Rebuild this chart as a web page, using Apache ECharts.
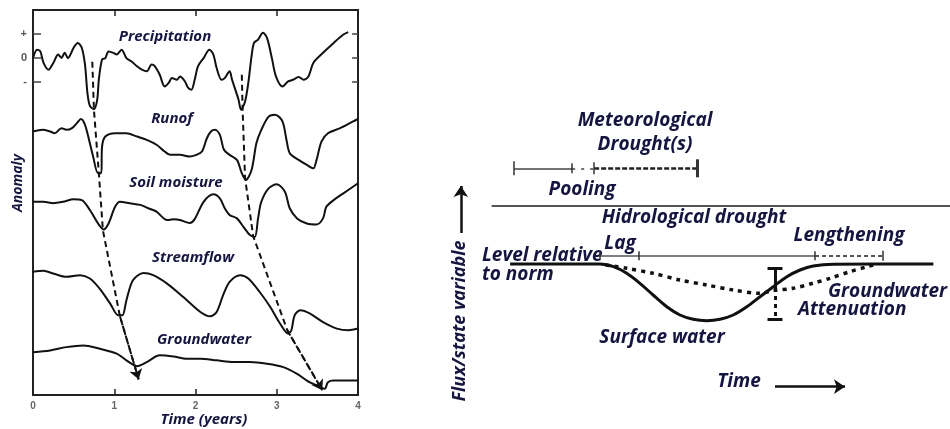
<!DOCTYPE html>
<html>
<head>
<meta charset="UTF-8">
<title>Drought propagation</title>
<script src="https://cdn.jsdelivr.net/npm/echarts@6/dist/echarts.min.js"></script>
<style>
  html, body { margin: 0; padding: 0; background: #fff; }
  #chart { width: 950px; height: 429px; }
</style>
</head>
<body>
<div id="chart"></div>
<script>
// left panel: anomaly curves, [time in years, anomaly units], each curve offset downwards
const precipitation = [[0,0],[0.05,0.35],[0.09,0.28],[0.13,-0.2],[0.19,-0.48],[0.25,-0.2],[0.31,0.15],[0.35,0.01],[0.39,0.22],[0.43,0],[0.5,0.43],[0.55,0.63],[0.6,0.43],[0.64,-0.27],[0.67,-1.45],[0.7,-1.98],[0.75,-2.12],[0.79,-1.73],[0.81,-0.9],[0.85,-0.06],[0.89,0],[0.93,0.28],[0.99,0.22],[1.03,0.15],[1.09,0.35],[1.15,0],[1.21,-0.13],[1.28,-0.34],[1.34,-0.48],[1.4,-0.55],[1.46,-0.27],[1.5,-0.34],[1.56,-0.69],[1.62,-1.18],[1.67,-1.03],[1.71,-0.83],[1.77,-0.9],[1.81,-0.76],[1.87,-0.97],[1.91,-1.24],[1.95,-1.31],[1.99,-0.9],[2.03,-0.34],[2.1,0],[2.17,0.35],[2.22,0.15],[2.26,-0.41],[2.32,-0.9],[2.36,-0.83],[2.42,-0.55],[2.45,-0.9],[2.49,-1.31],[2.53,-1.73],[2.56,-2.15],[2.61,-1.8],[2.65,-1.03],[2.69,0.08],[2.72,0.63],[2.77,0.77],[2.83,1.05],[2.88,0.84],[2.94,0],[2.99,-0.76],[3.07,-1.18],[3.14,-0.97],[3.2,-0.9],[3.27,-0.78],[3.33,-0.9],[3.39,-0.76],[3.45,-0.2],[3.57,0.22],[3.7,0.63],[3.82,0.98],[3.88,1.08]];
const runoff = [[0,-3.05],[0.12,-2.98],[0.21,-3.05],[0.27,-3.12],[0.35,-2.91],[0.41,-2.98],[0.48,-2.91],[0.54,-2.7],[0.59,-2.53],[0.64,-2.77],[0.69,-3.4],[0.74,-4.09],[0.8,-4.78],[0.84,-4.78],[0.85,-3.68],[0.89,-3.26],[1.01,-3.12],[1.15,-3.12],[1.28,-3.26],[1.4,-3.4],[1.52,-3.6],[1.62,-3.88],[1.69,-4.02],[1.81,-4.02],[1.93,-4.09],[2.01,-4.02],[2.08,-3.88],[2.14,-3.33],[2.19,-3.05],[2.24,-2.98],[2.3,-3.19],[2.35,-3.81],[2.42,-4.02],[2.51,-4.23],[2.57,-4.78],[2.62,-5.06],[2.69,-4.65],[2.75,-3.53],[2.81,-2.98],[2.9,-2.43],[2.98,-2.35],[3.07,-2.63],[3.12,-3.4],[3.16,-3.95],[3.27,-4.23],[3.37,-4.44],[3.45,-4.58],[3.49,-4.23],[3.55,-3.47],[3.63,-3.12],[3.78,-2.91],[3.94,-2.63],[4,-2.53]];
const soilMoisture = [[0,-5.97],[0.13,-5.97],[0.25,-6.03],[0.37,-5.97],[0.5,-5.87],[0.6,-5.9],[0.7,-6.31],[0.8,-6.87],[0.87,-7.12],[0.93,-6.87],[1.01,-6.18],[1.07,-5.97],[1.19,-6.03],[1.32,-6.1],[1.42,-6.24],[1.52,-6.38],[1.65,-6.73],[1.73,-6.7],[1.81,-6.73],[1.93,-6.85],[1.99,-6.69],[2.1,-5.97],[2.22,-5.66],[2.3,-5.83],[2.36,-6.24],[2.42,-6.52],[2.51,-6.66],[2.59,-7.01],[2.67,-7.35],[2.73,-7.43],[2.77,-6.66],[2.81,-5.97],[2.9,-5.41],[3,-5.24],[3.1,-5.55],[3.16,-6.24],[3.25,-6.66],[3.37,-6.87],[3.49,-6.91],[3.57,-6.66],[3.61,-6.18],[3.7,-5.9],[3.82,-5.62],[4,-5.2]];
const streamflow = [[0,-8.88],[0.13,-8.84],[0.25,-8.95],[0.41,-9.09],[0.58,-9.02],[0.7,-9.16],[0.82,-9.58],[0.95,-10.2],[1.05,-10.69],[1.1,-10.69],[1.15,-10.06],[1.23,-9.23],[1.36,-8.93],[1.48,-9.02],[1.65,-9.37],[1.85,-9.93],[2.06,-10.55],[2.18,-10.73],[2.26,-10.55],[2.34,-9.85],[2.42,-9.3],[2.55,-9.02],[2.65,-9.16],[2.79,-9.72],[2.92,-10.34],[3.04,-11.03],[3.14,-11.45],[3.18,-11.31],[3.22,-10.69],[3.29,-10.48],[3.41,-10.62],[3.57,-10.97],[3.74,-11.24],[3.88,-11.31],[4,-11.24]];
const groundwater = [[0,-12.22],[0.21,-12.15],[0.41,-12.01],[0.62,-11.94],[0.82,-12.08],[1.03,-12.28],[1.15,-12.56],[1.28,-12.8],[1.4,-12.63],[1.56,-12.35],[1.73,-12.4],[1.89,-12.49],[2.06,-12.49],[2.26,-12.56],[2.47,-12.63],[2.67,-12.63],[2.88,-12.7],[3.08,-12.84],[3.25,-13.12],[3.37,-13.4],[3.49,-13.6],[3.59,-13.74],[3.63,-13.47],[3.7,-13.4],[4,-13.4]];
// dashed propagation paths (dip to dip)
const propagation1 = [[0.73,-0.15],[0.75,-2.15],[0.81,-4.77],[0.86,-7.15],[1.07,-10.73],[1.3,-13.35]];
const propagation2 = [[2.57,-0.69],[2.58,-2.15],[2.61,-4.98],[2.71,-7.4],[3.13,-11.31],[3.56,-13.8]];
const anomalyTicks = [-1, 0, 1];
const anomalyNames = { '1': '+', '0': '0', '-1': '-' };

// right panel: schematic, [time, level relative to norm]
const surfaceWater = [[0.23,0],[2.27,0],[2.58,-0.27],[2.88,-0.93],[3.18,-1.93],[3.48,-3.1],[3.79,-4.27],[4.09,-5.1],[4.39,-5.53],[4.7,-5.67],[5,-5.53],[5.3,-5.1],[5.61,-4.27],[5.91,-3.27],[6.21,-2.27],[6.52,-1.27],[6.82,-0.6],[7.12,-0.2],[7.58,-0.03],[9.85,0]];
const groundwaterSchem = [[2.4,-0.1],[2.88,-0.43],[3.48,-0.93],[4.09,-1.6],[4.7,-2.1],[5.3,-2.6],[5.91,-2.93],[6.2,-2.67],[6.66,-2.43],[7.11,-1.93],[7.5,-1.43],[7.95,-0.77],[8.34,-0.27],[8.57,0]];
const meteoBar = { level: 9.57, wet: [0.32, 1.64], pool: [1.64, 2.14], drought: [2.14, 4.48] };
const hydroBar = { level: 0.83, lag: [2.27, 3.16], drought: [2.27, 7.16], lengthening: [7.16, 8.7] };
const separatorLevel = 5.83;
const attenuation = { time: 6.25, top: -0.43, cross: -2.4, bottom: -5.5 };

const chart = echarts.init(document.getElementById('chart'));
const FONT = '"Open Sans", "Noto Sans", sans-serif';
const TXT = '#15153f';
const ink = '#111';

function seg(a, b, style) {
  return { coords: [a, b], lineStyle: Object.assign({ opacity: 1 }, style) };
}
function tick(t, L, h, w) {
  return seg([t, L - h], [t, L + h], { color: '#333', width: w || 1.5, type: 'solid' });
}

const barSegs = [
  seg([meteoBar.wet[0], meteoBar.level], [meteoBar.wet[1], meteoBar.level], { color: '#444', width: 1.5, type: 'solid' }),
  seg([meteoBar.pool[0], meteoBar.level], [meteoBar.pool[1], meteoBar.level], { color: '#444', width: 1.5, type: [3, 6] }),
  seg([meteoBar.drought[0], meteoBar.level], [meteoBar.drought[1], meteoBar.level], { color: '#222', width: 2.5, type: [5, 2] }),
  tick(meteoBar.wet[0], meteoBar.level, 0.7),
  tick(meteoBar.wet[1], meteoBar.level, 0.5),
  tick(meteoBar.drought[0], meteoBar.level, 0.6),
  tick(meteoBar.drought[1], meteoBar.level, 0.9, 3),
  seg([hydroBar.drought[0], hydroBar.level], [hydroBar.drought[1], hydroBar.level], { color: '#555', width: 1.5, type: 'solid' }),
  seg([hydroBar.lengthening[0], hydroBar.level], [hydroBar.lengthening[1], hydroBar.level], { color: '#555', width: 2, type: [4, 3] }),
  tick(hydroBar.lag[0], hydroBar.level, 0.35),
  tick(hydroBar.lag[1], hydroBar.level, 0.45),
  tick(hydroBar.lengthening[0], hydroBar.level, 0.45),
  tick(hydroBar.lengthening[1], hydroBar.level, 0.5),
  seg([-0.19, separatorLevel], [10.3, separatorLevel], { color: '#555', width: 2, type: 'solid' }),
  seg([attenuation.time, attenuation.top], [attenuation.time, attenuation.cross], { color: ink, width: 3, type: 'solid' }),
  seg([attenuation.time, attenuation.cross], [attenuation.time, attenuation.bottom], { color: ink, width: 3, type: [4, 4] }),
  seg([attenuation.time - 0.17, attenuation.top], [attenuation.time + 0.17, attenuation.top], { color: ink, width: 3, type: 'solid' }),
  seg([attenuation.time - 0.17, attenuation.bottom], [attenuation.time + 0.17, attenuation.bottom], { color: ink, width: 3, type: 'solid' })
];

function curve(data) {
  return {
    type: 'line', data: data, xAxisIndex: 0, yAxisIndex: 0,
    showSymbol: false, smooth: 0.3, silent: true,
    lineStyle: { color: ink, width: 2 }
  };
}
function propagation(path) {
  return [{
    type: 'line', data: path, xAxisIndex: 0, yAxisIndex: 0,
    showSymbol: false, silent: true,
    lineStyle: { color: ink, width: 2, type: [6, 4] }
  }, {
    type: 'lines', coordinateSystem: 'cartesian2d', xAxisIndex: 0, yAxisIndex: 0,
    symbol: ['none', 'arrow'], symbolSize: 10, silent: true,
    lineStyle: { color: ink, width: 2, type: [6, 4], opacity: 1 },
    data: [{ coords: path.slice(-2) }]
  }];
}

function text(str, x, y, size, align, rot) {
  return {
    type: 'text', x: x, y: y, rotation: rot || 0, silent: true,
    style: {
      text: str, fill: TXT, font: 'italic bold ' + size + 'px ' + FONT,
      align: align || 'center', verticalAlign: 'middle'
    }
  };
}

const frameLine = { show: true, onZero: false, lineStyle: { color: '#222', width: 2 } };

chart.setOption({
  animation: false,
  grid: [
    { left: 33, right: 592, top: 10, bottom: 34 },
    { left: 456, right: 10, top: 154, bottom: 35 }
  ],
  xAxis: [
    {
      type: 'value', gridIndex: 0, min: 0, max: 4, interval: 1,
      axisLine: frameLine,
      axisTick: { show: true, inside: true, length: 6, lineStyle: { color: '#222', width: 1.5 } },
      axisLabel: { color: '#666', fontWeight: 'bold', fontSize: 10, margin: 6 },
      splitLine: { show: false }
    },
    {
      type: 'value', gridIndex: 0, min: 0, max: 4, interval: 1, position: 'top',
      axisLine: frameLine,
      axisTick: { show: true, inside: true, length: 6, lineStyle: { color: '#222', width: 1.5 } },
      axisLabel: { show: false },
      splitLine: { show: false }
    },
    { type: 'value', gridIndex: 1, min: -1, max: 10, show: false }
  ],
  yAxis: [
    {
      type: 'value', gridIndex: 0, min: -14, max: 2, interval: 1,
      axisLine: frameLine,
      axisTick: { show: true, inside: true, length: 8, customValues: anomalyTicks, lineStyle: { color: '#444', width: 1.5 } },
      axisLabel: {
        customValues: anomalyTicks, color: '#555', fontWeight: 'bold', fontSize: 11, margin: 6,
        formatter: function (v) { return anomalyNames[String(v)] || ''; }
      },
      splitLine: { show: false }
    },
    {
      type: 'value', gridIndex: 0, min: -14, max: 2, interval: 1, position: 'right',
      axisLine: frameLine,
      axisTick: { show: true, inside: true, length: 6, customValues: anomalyTicks, lineStyle: { color: '#444', width: 1.5 } },
      axisLabel: { show: false },
      splitLine: { show: false }
    },
    { type: 'value', gridIndex: 1, min: -13, max: 11, show: false }
  ],
  series: [
    curve(precipitation), curve(runoff), curve(soilMoisture), curve(streamflow), curve(groundwater)
  ].concat(propagation(propagation1), propagation(propagation2), [
    {
      type: 'line', data: surfaceWater, xAxisIndex: 2, yAxisIndex: 2,
      showSymbol: false, smooth: 0.3, silent: true,
      lineStyle: { color: ink, width: 3 }
    },
    {
      type: 'line', data: groundwaterSchem, xAxisIndex: 2, yAxisIndex: 2,
      showSymbol: false, smooth: 0.3, silent: true,
      lineStyle: { color: ink, width: 3.5, type: [4, 5] }
    },
    {
      type: 'lines', coordinateSystem: 'cartesian2d', xAxisIndex: 2, yAxisIndex: 2,
      silent: true, clip: false, symbol: 'none', lineStyle: { opacity: 1 }, data: barSegs
    },
    {
      type: 'lines', coordinateSystem: 'cartesian2d', xAxisIndex: 2, yAxisIndex: 2,
      silent: true, clip: false, symbol: ['none', 'arrow'], symbolSize: [9, 11],
      lineStyle: { color: ink, width: 2.5, opacity: 1 },
      data: [
        { coords: [[6.25, -12.27], [7.84, -12.27]] },
        { coords: [[-0.89, 3.1], [-0.89, 7.8]] }
      ]
    }
  ]),
  graphic: [
    text('Precipitation', 165, 37, 15),
    text('Runof', 172, 119, 15),
    text('Soil moisture', 176, 183, 15),
    text('Streamflow', 193, 258, 15),
    text('Groundwater', 204, 340, 15),
    text('Anomaly', 18, 183, 14, 'center', Math.PI / 2),
    text('Time (years)', 204, 420, 15),
    text('Meteorological', 645, 121, 19),
    text('Drought(s)', 645, 145, 19),
    text('Pooling', 582, 190, 19),
    text('Hidrological drought', 694, 218, 19),
    text('Lengthening', 849, 236, 19),
    text('Lag', 620, 244, 19),
    text('Level relative', 482, 256, 19, 'left'),
    text('to norm', 482, 275, 19, 'left'),
    text('Groundwater', 828, 292, 19, 'left'),
    text('Attenuation', 798, 310, 19, 'left'),
    text('Surface water', 662, 338, 19),
    text('Time', 739, 382, 19),
    text('Flux/state variable', 460, 321, 18, 'center', Math.PI / 2)
  ]
});
</script>
</body>
</html>
